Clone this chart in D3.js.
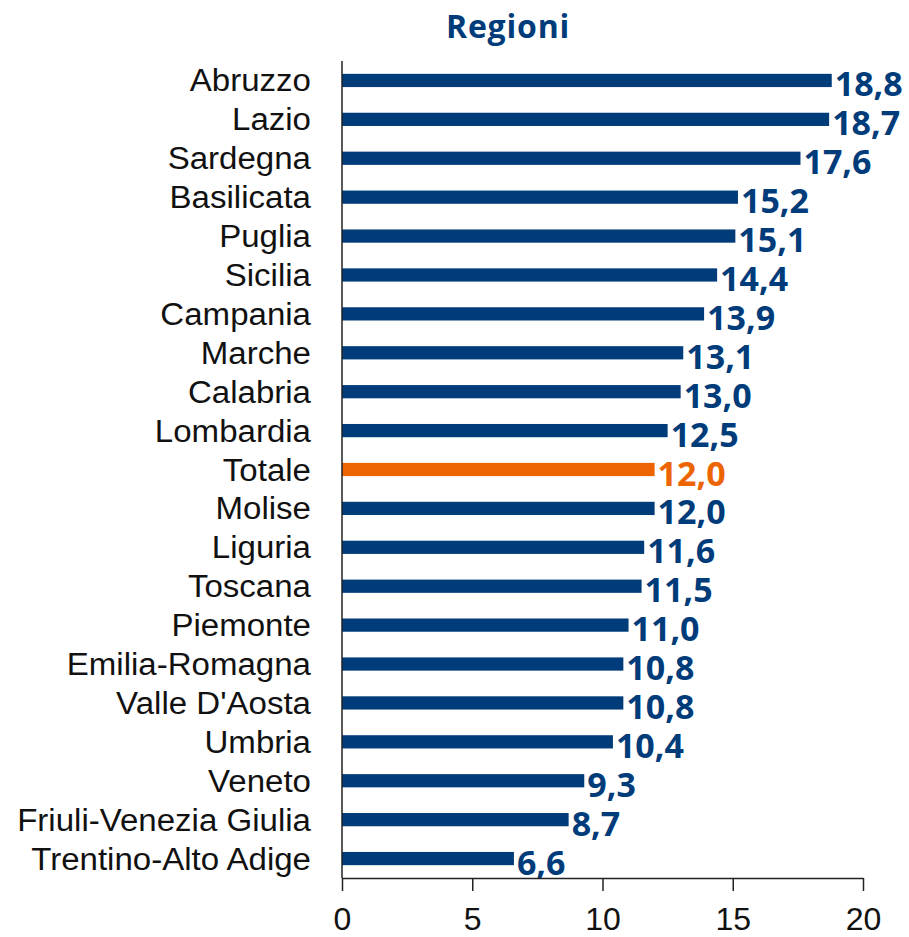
<!DOCTYPE html>
<html><head><meta charset="utf-8">
<script src="https://cdn.jsdelivr.net/npm/d3@7"></script>
<style>body{margin:0;background:#fff}</style>
</head><body>
<svg id="c" width="909" height="937"></svg>
<script>
const categories = ["Abruzzo","Lazio","Sardegna","Basilicata","Puglia","Sicilia","Campania","Marche","Calabria","Lombardia","Totale","Molise","Liguria","Toscana","Piemonte","Emilia-Romagna","Valle D'Aosta","Umbria","Veneto","Friuli-Venezia Giulia","Trentino-Alto Adige"];
const values = [18.8,18.7,17.6,15.2,15.1,14.4,13.9,13.1,13.0,12.5,12.0,12.0,11.6,11.5,11.0,10.8,10.8,10.4,9.3,8.7,6.6];
const tickValues = [0,5,10,15,20];
const title = "Regioni";

const blue = "#003b7a", orange = "#ec6502";
const svg = d3.select("#c");
const x = d3.scaleLinear().domain([0,20]).range([342,863]);
const y = d3.scaleBand().domain(categories).range([61,878]).paddingInner(0.66).paddingOuter(0.33);

svg.append("text").attr("x",508).attr("y",38).attr("text-anchor","middle")
  .attr("font-family","'Open Sans', sans-serif").attr("font-weight",700).attr("font-size",32)
  .attr("letter-spacing",0.8).attr("fill",blue).text(title);

svg.selectAll("rect.bar").data(categories).join("rect")
  .attr("x",x(0)).attr("y",d=>y(d)).attr("height",y.bandwidth())
  .attr("width",(d,i)=>x(values[i])-x(0))
  .attr("fill",d=>d==="Totale"?orange:blue);

const cats = svg.selectAll("text.cat").data(categories).join("text")
  .attr("class","cat")
  .attr("text-anchor","end").attr("font-family","'Liberation Sans', Arial, sans-serif")
  .attr("font-size",31).attr("fill","#111").text(d=>d);
let maxW = 0;
cats.each(function(){ maxW = Math.max(maxW, this.getComputedTextLength()); });
const k = 294 / maxW;
cats.attr("transform", d => `translate(311,${y(d)+y.bandwidth()/2 + 11}) scale(${k},1)`);

svg.selectAll("text.val").data(categories).join("text")
  .attr("x",(d,i)=>x(values[i])+3).attr("y",d=>y(d)+y.bandwidth()/2+16)
  .attr("font-family","'Open Sans', sans-serif").attr("font-weight",700).attr("font-size",34)
  .attr("fill",d=>d==="Totale"?orange:blue)
  .text((d,i)=>values[i].toFixed(1).replace(".",","));

const ax = svg.append("g").attr("transform","translate(0,878)")
  .call(d3.axisBottom(x).tickValues(tickValues).tickSize(13).tickPadding(16).tickSizeOuter(0));
ax.select(".domain").attr("stroke","#222").attr("stroke-width",1.5);
ax.selectAll(".tick line").attr("stroke","#222").attr("stroke-width",1.5);
ax.selectAll(".tick text").attr("font-family","'Liberation Sans', Arial, sans-serif").attr("font-size",32).attr("fill","#111");

svg.append("line").attr("x1",x(0)).attr("x2",x(0)).attr("y1",61).attr("y2",878)
  .attr("stroke","#222").attr("stroke-width",1.5);
</script>
</body></html>
